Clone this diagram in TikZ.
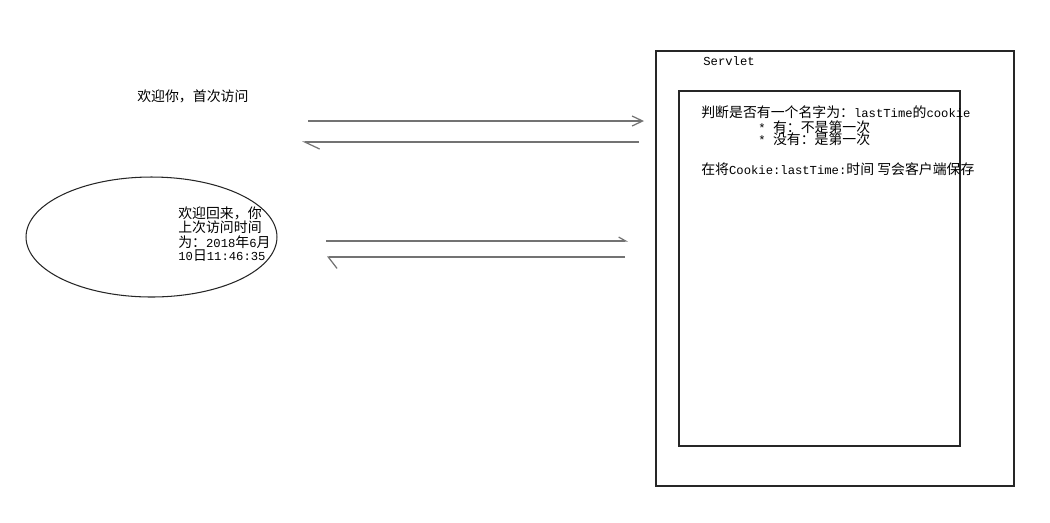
\documentclass[tikz,border=0pt]{standalone}
\usepackage{fontspec}
\setmainfont{Liberation Mono}[Scale=0.88]
\newfontfamily\cjk{Noto Sans CJK SC}
\usetikzlibrary{arrows.meta,shapes.geometric}

\begin{document}
\begin{tikzpicture}[x=0.02cm,y=-0.02cm,
  txt/.style={inner sep=0pt,anchor=west,align=left,
    font=\fontsize{7.9}{7.6}\selectfont},
  box/.style={draw=black!85,line width=0.6pt},
  msg/.style={draw=black!55,line width=0.7pt}]
% Canvas in pixels of the original sketch: 1050 x 522.
\useasboundingbox (0,0) rectangle (1050,522);

% Server side: outer frame and the inner handling box.
\draw[box] (656,51) rectangle (1014,486);
\draw[box] (679,91) rectangle (960,446);
\node[txt] (srvname) at (703,61) {Servlet};
\node[txt] (check) at (701,112)
  {{\cjk 判断是否有一个名字为：}lastTime{\cjk 的}cookie};
\node[txt] (yes) at (758,127) {* {\cjk 有：不是第一次}};
\node[txt] (no) at (758,139) {* {\cjk 没有：是第一次}};
\node[txt] (save) at (701,169)
  {{\cjk 在将}Cookie:lastTime:{\cjk 时间 写会客户端保存}};

% Client side: first visit and later visit.
\node[txt] (first) at (137,96) {\cjk 欢迎你，首次访问};
\node[box,ellipse,inner sep=0pt,minimum width=5.02cm,minimum height=2.4cm]
  (again) at (151.5,237) {};
\node[txt,anchor=north west,font=\fontsize{7.9}{7.2}\selectfont] (againtxt) at (178,206)
  {{\cjk 欢迎回来，你}\\{\cjk 上次访问时间}\\{\cjk 为：}2018{\cjk 年}6{\cjk 月}\\10{\cjk 日}11:46:35};

% Request and response of the first visit.
\coordinate (req1a) at (308,121);
\coordinate (req1b) at (644,121);
\coordinate (res1a) at (639,142);
\coordinate (res1b) at (302,142);
\draw[msg,-{Straight Barb[length=6pt,width=5.7pt]}] (req1a) -- (req1b);
\draw[msg,-{Straight Barb[left,length=8.5pt,width=8pt]}] (res1a) -- (res1b);

% Request and response of the second visit.
\coordinate (req2a) at (326,241);
\coordinate (req2b) at (628,241);
\coordinate (res2a) at (625,257);
\coordinate (res2b) at (327,257);
\draw[msg,-{Straight Barb[left,length=4pt,width=4.5pt]}] (req2a) -- (req2b);
\draw[msg,-{Straight Barb[left,length=5pt,width=13pt]}] (res2a) -- (res2b);
\end{tikzpicture}
\end{document}
